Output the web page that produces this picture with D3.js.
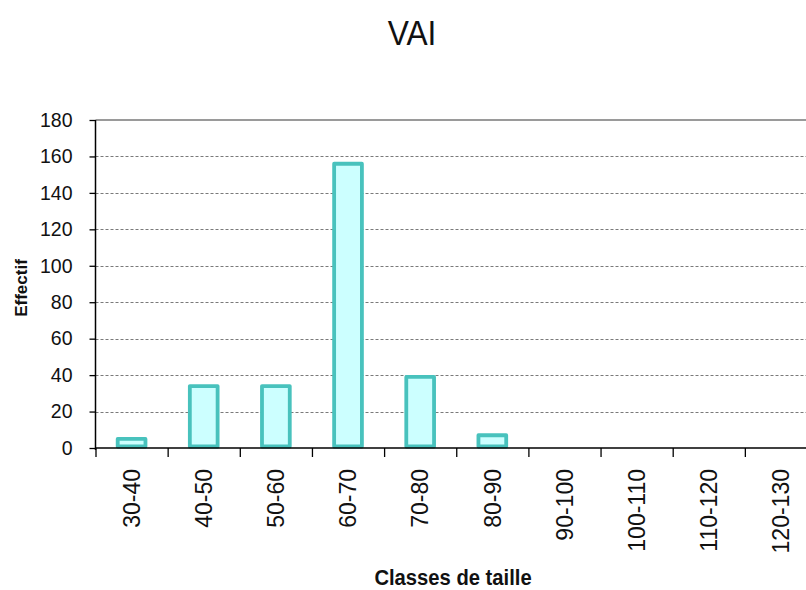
<!DOCTYPE html>
<html>
<head>
<meta charset="utf-8">
<script src="https://cdn.jsdelivr.net/npm/d3@7"></script>
<style>
  html, body { margin: 0; padding: 0; background: #ffffff; }
  svg { display: block; font-family: "Liberation Sans", Arial, sans-serif; }
</style>
</head>
<body>
<svg id="chart" width="806" height="590"></svg>
<script>
// Size classes (cm) and counts per class
const categories = ["30-40", "40-50", "50-60", "60-70", "70-80", "80-90", "90-100", "100-110", "110-120", "120-130"];
const counts = [5, 34, 34, 156, 39, 7, 0, 0, 0, 0];
const yTicks = [0, 20, 40, 60, 80, 100, 120, 140, 160, 180];

const chartTitle = "VAI";
const xTitle = "Classes de taille";
const yTitle = "Effectif";

const svg = d3.select("#chart");

// plot frame (runs past the right edge of the page)
const plotLeft = 95.5, plotRight = 817, plotTop = 120, plotBottom = 448;

const x = d3.scaleBand().domain(categories).range([plotLeft, plotRight]).padding(0);
const xEdge = d3.scaleLinear().domain([0, categories.length]).range([plotLeft, plotRight]);
const y = d3.scaleLinear().domain([0, 180]).range([plotBottom, plotTop]);

// title
svg.append("text")
  .attr("transform", "translate(412,45) scale(0.88,1)")
  .attr("text-anchor", "middle")
  .attr("font-size", 36)
  .attr("fill", "#111")
  .text(chartTitle);

// dashed gridlines
svg.append("g")
  .selectAll("line")
  .data(yTicks.filter(d => d > 0 && d < 180))
  .join("line")
  .attr("x1", plotLeft).attr("x2", plotRight)
  .attr("y1", d => Math.round(y(d)) + 0.5).attr("y2", d => Math.round(y(d)) + 0.5)
  .attr("stroke", "#7a7a7a")
  .attr("stroke-width", 1)
  .attr("stroke-dasharray", "3,2");

// top border of the plot area
svg.append("line")
  .attr("x1", plotLeft).attr("x2", plotRight)
  .attr("y1", y(180)).attr("y2", y(180))
  .attr("stroke", "#9a9a9a")
  .attr("stroke-width", 2);

// bars
const barW = x.bandwidth() * 0.385;
svg.append("g")
  .selectAll("rect")
  .data(categories.map((c, i) => ({ c, v: counts[i] })).filter(d => d.v > 0))
  .join("rect")
  .attr("x", d => x(d.c) + x.bandwidth() / 2 - barW / 2)
  .attr("y", d => y(d.v))
  .attr("width", barW)
  .attr("height", d => y(0) - y(d.v) - 1.5)
  .attr("fill", "#ccffff")
  .attr("stroke", "#48c2bd")
  .attr("stroke-width", 3.8)
  .attr("stroke-linejoin", "round");

// y axis
const yAxis = svg.append("g")
  .attr("transform", `translate(${plotLeft},0)`)
  .call(d3.axisLeft(y).tickValues(yTicks).tickSize(6).tickPadding(17).tickFormat(d3.format("d")));
yAxis.select(".domain").attr("stroke", "#000").attr("stroke-width", 1.5).attr("d", `M0,${plotTop}V${plotBottom + 2}`);
yAxis.selectAll(".tick line").attr("stroke", "#000").attr("stroke-width", 1.3);
yAxis.selectAll(".tick text")
  .attr("font-family", "'Liberation Sans', Arial, sans-serif")
  .attr("font-size", 19.5)
  .attr("fill", "#111");

// x axis: boundary ticks
const xTickAxis = svg.append("g")
  .attr("transform", `translate(0,${plotBottom})`)
  .call(d3.axisBottom(xEdge).tickValues(d3.range(0, categories.length + 1)).tickSize(9).tickFormat(""));
xTickAxis.select(".domain").attr("stroke", "#000").attr("stroke-width", 1.5).attr("d", `M${plotLeft},0H${plotRight}`);
xTickAxis.selectAll(".tick line").attr("stroke", "#000").attr("stroke-width", 1.3);

// x axis: rotated category labels
const xLabels = svg.append("g")
  .attr("transform", `translate(0,${plotBottom})`)
  .call(d3.axisBottom(x).tickSize(0));
xLabels.select(".domain").remove();
xLabels.selectAll(".tick text")
  .attr("font-family", "'Liberation Sans', Arial, sans-serif")
  .attr("font-size", 23)
  .attr("fill", "#111")
  .attr("text-anchor", "end")
  .attr("x", -21)
  .attr("y", 0)
  .attr("dy", "0.36em")
  .attr("transform", "rotate(-90)");

// axis titles
svg.append("text")
  .attr("transform", "translate(453,585) scale(0.94,1)")
  .attr("text-anchor", "middle")
  .attr("font-size", 21.5)
  .attr("font-weight", "bold")
  .attr("fill", "#111")
  .text(xTitle);

svg.append("text")
  .attr("transform", "translate(27,288) rotate(-90)")
  .attr("text-anchor", "middle")
  .attr("font-size", 17)
  .attr("font-weight", "bold")
  .attr("fill", "#111")
  .text(yTitle);
</script>
</body>
</html>
